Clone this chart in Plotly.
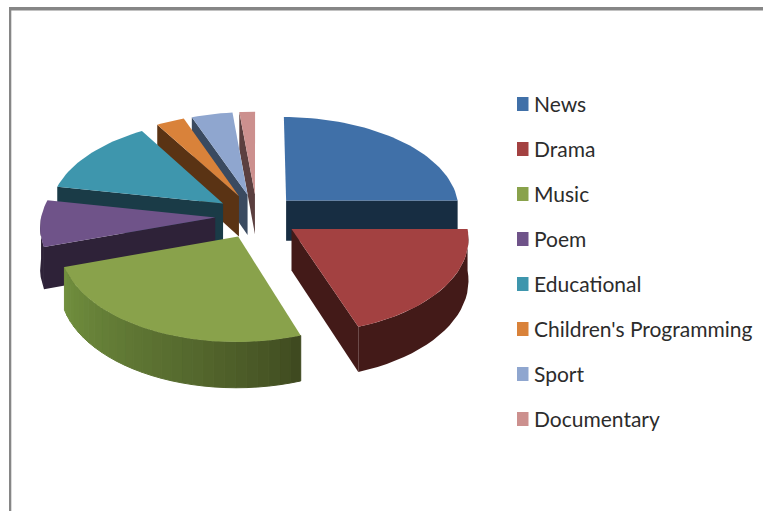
import math
import plotly.graph_objects as go

# Share of broadcast hours per programme type (percent)
categories = ["News", "Drama", "Music", "Poem", "Educational",
              "Children's Programming", "Sport", "Documentary"]
shares = [25.0, 19.6, 25.4, 8.0, 13.3, 2.9, 4.2, 1.6]

top_colors = ["#4070a8", "#a34141", "#89a24b", "#6f5389", "#3e96ad", "#d9823a", "#8fa6cf", "#cc908e"]
side_colors = ["#172d42", "#431a18", "#5d7033", "#2e2238", "#1a3b47", "#5a3314", "#3a4a60", "#5b3f3f"]

# Perspective projection of the tilted pie onto the page
CX, CY = 257.0, 216.0
RX, RY = 174.0, 93.0
PERSPECTIVE = 0.085
DEPTH = 41.0
EXPLODE = 0.24


def project(x, y, drop=0.0):
    s = 1.0 / (1.0 - PERSPECTIVE * y)
    return CX + RX * x * s, CY + RY * y * s + drop * DEPTH * s


def rim(theta, dx, dy):
    return dx + math.sin(theta), dy - math.cos(theta)


def polygon(points, color, edge=False):
    xs = [p[0] for p in points] + [points[0][0]]
    ys = [p[1] for p in points] + [points[0][1]]
    return go.Scatter(x=xs, y=ys, mode="lines", fill="toself", fillcolor=color,
                      line=dict(color=color, width=1 if edge else 0),
                      hoverinfo="skip", showlegend=False)


def mix(a, b, t):
    ca = [int(a[i:i + 2], 16) for i in (1, 3, 5)]
    cb = [int(b[i:i + 2], 16) for i in (1, 3, 5)]
    return "rgb(%d,%d,%d)" % tuple(round(u + (v - u) * t) for u, v in zip(ca, cb))


total = sum(shares)
spans = []
running = 0.0
for share in shares:
    start = running / total * 2 * math.pi
    running += share
    spans.append((start, running / total * 2 * math.pi))

fig = go.Figure()
draw_order = [7, 6, 5, 4, 3, 0, 1, 2]
music = categories.index("Music")

for i in draw_order:
    a0, a1 = spans[i]
    mid = (a0 + a1) / 2
    dx, dy = EXPLODE * math.sin(mid), -EXPLODE * math.cos(mid)
    dark = side_colors[i]

    # Cut faces that turn towards the viewer
    for angle, visible in ((a0, math.sin(a0) < 0), (a1, math.sin(a1) > 0)):
        if visible:
            rx, ry = rim(angle, dx, dy)
            fig.add_trace(polygon([project(dx, dy), project(rx, ry),
                                   project(rx, ry, 1), project(dx, dy, 1)], dark))

    # Outer wall between 90 and 270 degrees
    lo, hi = max(a0, math.pi / 2), min(a1, 3 * math.pi / 2)
    if hi > lo:
        steps = max(2, int((hi - lo) / math.radians(3.2)))
        if i == music:
            # Shaded wall, one narrow strip per step
            for k in range(steps):
                t0 = lo + (hi - lo) * k / steps
                t1 = lo + (hi - lo) * (k + 1) / steps
                p0, p1 = rim(t0, dx, dy), rim(t1, dx, dy)
                color = mix("#3f4a20", "#72913f", (k / steps) ** 0.8)
                fig.add_trace(polygon([project(*p0), project(*p1),
                                       project(*p1, 1), project(*p0, 1)], color, edge=True))
        else:
            arc = [rim(lo + (hi - lo) * k / steps, dx, dy) for k in range(steps + 1)]
            fig.add_trace(polygon([project(*p) for p in arc]
                                  + [project(*p, 1) for p in reversed(arc)], dark))

    # Top surface
    n = max(6, int((a1 - a0) / math.radians(2)))
    outline = [project(dx, dy)]
    for k in range(n + 1):
        outline.append(project(*rim(a0 + (a1 - a0) * k / n, dx, dy)))
    fig.add_trace(polygon(outline, top_colors[i]))

# Legend column
shapes = [
    dict(type="rect", x0=9, x1=763, y0=7, y1=10.5, fillcolor="#868686", line_width=0, layer="below"),
    dict(type="rect", x0=9, x1=11.3, y0=7, y1=511, fillcolor="#868686", line_width=0, layer="below"),
]
annotations = []
for i, name in enumerate(categories):
    yc = 104 + 45 * i
    shapes.append(dict(type="rect", x0=517, x1=528.5, y0=yc - 7, y1=yc + 7,
                       fillcolor=top_colors[i], line_width=0))
    annotations.append(dict(x=532, y=yc - 0.5, xref="x", yref="y", text=name, showarrow=False,
                            xanchor="left", yanchor="middle",
                            font=dict(family="Lato", size=21, color="#2c2c2c")))

fig.update_layout(
    width=763, height=511, autosize=False,
    margin=dict(l=0, r=0, t=0, b=0),
    paper_bgcolor="white", plot_bgcolor="white",
    showlegend=False, shapes=shapes, annotations=annotations,
    xaxis=dict(range=[0, 763], visible=False, fixedrange=True),
    yaxis=dict(range=[511, 0], visible=False, fixedrange=True),
)
fig.write_html("out.html", config={"displayModeBar": False})
